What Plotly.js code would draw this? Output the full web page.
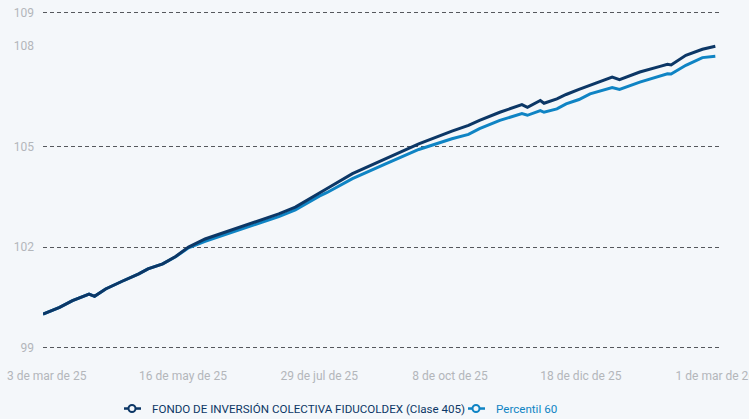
<!DOCTYPE html>
<html>
<head>
<meta charset="utf-8">
<script src="https://cdn.plot.ly/plotly-3.0.1.min.js"></script>
<style>
html,body{margin:0;padding:0;background:#f4f7fa;}
#chart{width:749px;height:419px;}
</style>
</head>
<body>
<div id="chart"></div>
<script>
// ---- data ----
const fundDates = ['2025-03-01','2025-03-10','2025-03-17','2025-03-24','2025-03-26','2025-03-29','2025-04-04','2025-04-13','2025-04-22','2025-04-27','2025-05-05','2025-05-12','2025-05-19','2025-05-28','2025-06-10','2025-06-19','2025-06-26','2025-07-07','2025-07-16','2025-07-25','2025-07-29','2025-08-02','2025-08-16','2025-09-03','2025-09-21','2025-10-09','2025-10-18','2025-10-24','2025-11-04','2025-11-16','2025-11-19','2025-11-26','2025-11-28','2025-12-05','2025-12-10','2025-12-17','2025-12-23','2026-01-04','2026-01-08','2026-01-19','2026-01-30','2026-02-03','2026-02-05','2026-02-13','2026-02-22','2026-03-01'];
const fundValues = [100.00,100.20,100.40,100.55,100.60,100.53,100.75,100.98,101.20,101.35,101.50,101.72,102.00,102.24,102.49,102.64,102.79,102.99,103.19,103.49,103.62,103.74,104.19,104.63,105.08,105.46,105.63,105.78,106.02,106.25,106.17,106.37,106.29,106.42,106.55,106.70,106.82,107.07,106.99,107.22,107.39,107.45,107.43,107.72,107.90,107.99];
const p60Values = [100.00,100.20,100.40,100.55,100.60,100.53,100.75,100.98,101.20,101.35,101.50,101.71,101.98,102.17,102.41,102.57,102.71,102.91,103.11,103.40,103.52,103.62,104.04,104.48,104.91,105.23,105.36,105.53,105.78,105.98,105.93,106.07,106.02,106.12,106.27,106.40,106.57,106.76,106.70,106.92,107.12,107.17,107.16,107.42,107.65,107.69];
const seriesNames = ['FONDO DE INVERSIÓN COLECTIVA FIDUCOLDEX (Clase 405)','Percentil 60'];
const xTickVals = ['2025-03-03','2025-05-16','2025-07-29','2025-10-08','2025-12-18','2026-03-01'];
const xTickText = ['3 de mar de 25','16 de may de 25','29 de jul de 25','8 de oct de 25','18 de dic de 25','1 de mar de 26'];
const yLabelVals = [99,102,105,108,109];
const yGridVals = [99,102,105,109];

// ---- styles ----
const darkColor = '#0c3766';
const lightColor = '#0f84c4';
const bg = '#f4f7fa';

const traces = [
  {x: fundDates, y: p60Values, type:'scatter', mode:'lines', line:{color:lightColor, width:3}, showlegend:false, hoverinfo:'skip'},
  {x: fundDates, y: fundValues, type:'scatter', mode:'lines', line:{color:darkColor, width:3}, showlegend:false, hoverinfo:'skip'},
  {x:[null], y:[null], type:'scatter', mode:'lines+markers', name:'<span style="color:'+darkColor+'">'+seriesNames[0]+'</span>',
   line:{color:darkColor, width:2.5}, marker:{symbol:'circle', size:7, color:bg, line:{color:darkColor, width:2}}, legend:'legend'},
  {x:[null], y:[null], type:'scatter', mode:'lines+markers', name:'<span style="color:'+lightColor+'">'+seriesNames[1]+'</span>',
   line:{color:lightColor, width:2.5}, marker:{symbol:'circle', size:7, color:bg, line:{color:lightColor, width:2}}, legend:'legend2'},
  {x:[null], y:[null], yaxis:'y2', type:'scatter', mode:'lines', showlegend:false, hoverinfo:'skip'}
];

const legendBase = {orientation:'h', xref:'container', xanchor:'left', yref:'container', y:0.025, yanchor:'middle',
                    font:{size:11.6}, itemwidth:30, bgcolor:'rgba(0,0,0,0)', borderwidth:0};

const layout = {
  width:749, height:419,
  margin:{l:43, r:30, t:9, b:68},
  paper_bgcolor:bg, plot_bgcolor:bg,
  font:{family:'Roboto, "Open Sans", sans-serif', size:12, color:'#b3b6ba'},
  xaxis:{type:'date', range:['2025-03-01','2026-03-03'], tickvals:xTickVals, ticktext:xTickText,
         showgrid:false, zeroline:false, showline:false, ticks:'', ticklabelstandoff:16, ticklabeloverflow:'allow',
         tickfont:{size:12, color:'#b3b6ba'}},
  yaxis:{range:[98.9,109.1], tickvals:yGridVals, showticklabels:false, showgrid:true,
         gridcolor:'#55585d', gridwidth:1, griddash:'4px,3px', zeroline:false, showline:false, ticks:''},
  yaxis2:{range:[98.9,109.1], overlaying:'y', side:'left', tickvals:yLabelVals, ticktext:yLabelVals.map(String),
          showgrid:false, zeroline:false, showline:false, ticks:'', ticklabelstandoff:8,
          tickfont:{size:12, color:'#b3b6ba'}},
  legend: Object.assign({}, legendBase, {x:112/749}),
  legend2: Object.assign({}, legendBase, {x:456/749}),
  showlegend:true
};

Plotly.newPlot('chart', traces, layout, {displayModeBar:false, staticPlot:true}).then(function(gd){
  // shorter legend line symbol, like the reference
  gd.querySelectorAll('.legendlines path').forEach(function(p){ p.setAttribute('d','M12,0h17'); });
});
</script>
</body>
</html>
